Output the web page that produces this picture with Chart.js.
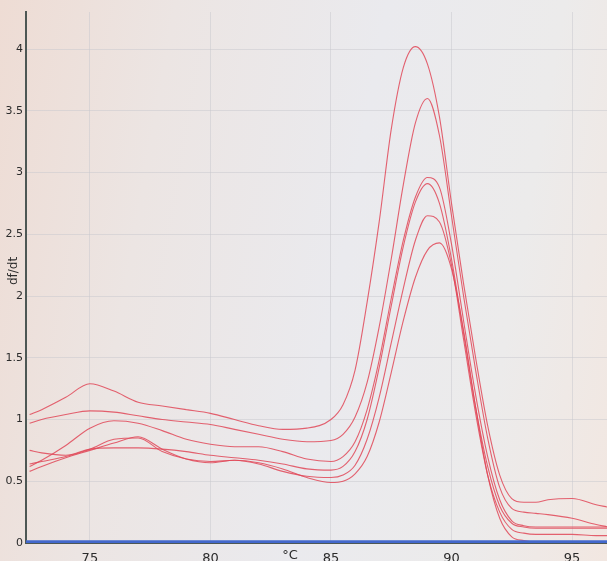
<!DOCTYPE html>
<html>
<head>
<meta charset="utf-8">
<script src="https://cdn.jsdelivr.net/npm/chart.js@4"></script>
<style>
  html, body { margin: 0; padding: 0; }
  body {
    width: 607px; height: 561px; overflow: hidden;
    background: linear-gradient(100deg, #eedcd4 0%, #ece5e3 25%, #eaeaee 55%, #ecebeb 80%, #f2e7e1 100%);
  }
  #wrap { position: relative; width: 607px; height: 561px; }
</style>
</head>
<body>
<div id="wrap"><canvas id="myChart"></canvas></div>
<script>
// melt curve, temperature in °C
const temps = [72.5, 73, 74, 75, 76, 77, 78, 79, 80, 81, 82, 83, 84, 85, 85.5, 86, 86.5, 87, 87.5, 88,
  88.5, 89, 89.5, 90, 90.5, 91, 91.5, 92, 92.5, 93, 93.5, 94, 95, 96, 96.5];

const sampleA = [1.04, 1.08, 1.18, 1.29, 1.23, 1.14, 1.11, 1.08, 1.05, 1.00, 0.95, 0.92, 0.93, 1.00, 1.12, 1.40,
  1.95, 2.60, 3.35, 3.85, 4.02, 3.88, 3.45, 2.75, 2.10, 1.50, 0.95, 0.55, 0.36, 0.33, 0.33, 0.35, 0.36, 0.31, 0.29];
const sampleB = [0.97, 1.00, 1.04, 1.07, 1.06, 1.03, 1.00, 0.98, 0.96, 0.92, 0.88, 0.84, 0.82, 0.83, 0.88, 1.02,
  1.30, 1.75, 2.30, 2.90, 3.40, 3.60, 3.30, 2.65, 2.00, 1.40, 0.85, 0.45, 0.28, 0.25, 0.24, 0.23, 0.20, 0.15, 0.13];
const sampleC = [0.62, 0.67, 0.79, 0.93, 0.99, 0.97, 0.91, 0.84, 0.80, 0.78, 0.78, 0.74, 0.68, 0.66, 0.70, 0.82,
  1.08, 1.48, 1.98, 2.45, 2.80, 2.96, 2.88, 2.42, 1.80, 1.20, 0.70, 0.35, 0.18, 0.14, 0.13, 0.13, 0.13, 0.13, 0.13];
const sampleD = [0.75, 0.73, 0.71, 0.76, 0.77, 0.77, 0.76, 0.74, 0.71, 0.69, 0.67, 0.64, 0.60, 0.59, 0.62, 0.74,
  1.00, 1.42, 1.92, 2.40, 2.76, 2.91, 2.75, 2.30, 1.70, 1.10, 0.62, 0.30, 0.16, 0.13, 0.12, 0.12, 0.12, 0.12, 0.12];
const sampleE = [0.64, 0.66, 0.70, 0.76, 0.84, 0.85, 0.74, 0.68, 0.66, 0.67, 0.64, 0.58, 0.54, 0.53, 0.55, 0.63,
  0.84, 1.18, 1.62, 2.06, 2.45, 2.65, 2.60, 2.25, 1.65, 1.05, 0.55, 0.25, 0.11, 0.08, 0.07, 0.07, 0.07, 0.06, 0.06];
const sampleF = [0.58, 0.62, 0.69, 0.75, 0.81, 0.86, 0.76, 0.68, 0.65, 0.67, 0.65, 0.60, 0.53, 0.49, 0.50, 0.56,
  0.70, 0.98, 1.38, 1.80, 2.15, 2.37, 2.43, 2.22, 1.72, 1.10, 0.55, 0.20, 0.05, 0.02, 0.01, 0.01, 0.01, 0.01, 0.01];

// blue negative controls, flat on zero
const blankTemps = [72.3, 96.5];
const blankValues = [0.01, 0.01];

const yTicks = [0, 0.5, 1, 1.5, 2, 2.5, 3, 3.5, 4];
const xTicks = [75, 80, 85, 90, 95];

function pts(xs, ys) {
  return xs.map((t, i) => ({ x: t, y: ys[i] }));
}

const red = "rgba(224, 72, 88, 0.85)";
let samples = [sampleA, sampleB, sampleC, sampleD, sampleE, sampleF];
let datasets = samples.map((s) => ({
  data: pts(temps, s),
  borderColor: red,
  borderWidth: 1.1,
  pointRadius: 0,
  cubicInterpolationMode: "monotone",
}));
datasets.unshift({
  data: pts(blankTemps, blankValues),
  borderColor: "#4368cc",
  borderWidth: 3,
  pointRadius: 0,
});

const textPlugin = {
  id: "axisText",
  afterDraw(chart) {
    const c = chart.ctx;
    c.save();
    c.fillStyle = "#2b2b2b";
    c.font = "12px 'DejaVu Sans'";
    c.textAlign = "center";
    c.textBaseline = "middle";
    c.translate(14, 271);
    c.rotate(-Math.PI / 2);
    c.fillText("df/dt", 0, 0);
    c.restore();

    c.save();
    c.fillStyle = "#2b2b2b";
    c.font = "13px 'DejaVu Sans'";
    c.textAlign = "center";
    c.textBaseline = "top";
    c.fillText("°C", chart.scales.x.getPixelForValue(83.3), 549);
    c.restore();
  },
};

var ctx = document.getElementById("myChart");
var meltChart = new Chart(ctx, {
  type: "line",
  data: { datasets: datasets },
  plugins: [textPlugin],
  options: {
    responsive: true,
    maintainAspectRatio: false,
    animation: false,
    devicePixelRatio: 1,
    layout: { padding: { top: 12, left: 0, right: 0, bottom: 0 } },
    plugins: { legend: { display: false }, tooltip: { enabled: false } },
    scales: {
      x: {
        type: "linear",
        min: 72.35,
        max: 96.45,
        afterFit(scale) { scale.height = 18; },
        afterBuildTicks(scale) { scale.ticks = xTicks.map((v) => ({ value: v })); },
        ticks: {
          color: "#2b2b2b", font: { family: "DejaVu Sans", size: 13 }, padding: 8, maxRotation: 0,
          callback: (v) => String(v),
        },
        grid: { color: "rgba(200, 200, 205, 0.5)", drawTicks: false },
        border: { color: "#4d5754", width: 2 },
      },
      y: {
        min: 0,
        max: 4.3,
        afterFit(scale) { scale.width = 26; },
        afterBuildTicks(scale) { scale.ticks = yTicks.map((v) => ({ value: v })); },
        ticks: {
          color: "#2b2b2b", font: { family: "DejaVu Sans", size: 11 }, padding: 3,
          callback: (v) => String(v),
        },
        grid: { color: "rgba(200, 200, 205, 0.5)", drawTicks: false },
        border: { color: "#4d5754", width: 2 },
      },
    },
  },
});
</script>
</body>
</html>
